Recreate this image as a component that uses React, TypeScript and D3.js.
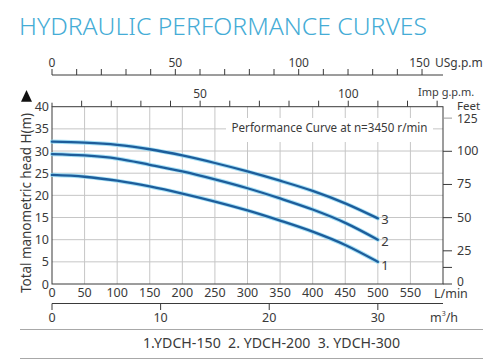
import * as d3 from 'd3'

// flow points in L/min, head in metres
const flowLmin = [0, 50, 100, 150, 200, 250, 300, 350, 400, 450, 500]
const headYdch300 = [32.1, 31.9, 31.4, 30.4, 29.0, 27.3, 25.4, 23.3, 21.0, 18.2, 14.8]
const headYdch200 = [29.3, 29.0, 28.3, 26.9, 25.4, 23.6, 21.6, 19.3, 16.8, 13.8, 10.0]
const headYdch150 = [24.6, 24.2, 23.3, 22.0, 20.4, 18.6, 16.6, 14.3, 11.8, 8.8, 5.0]
const curveNames = ['3', '2', '1']

const lminTicks = [0, 50, 100, 150, 200, 250, 300, 350, 400, 450, 500, 550]
const headTicks = [0, 5, 10, 15, 20, 25, 30, 35, 40]
const feetTicks = [0, 25, 50, 75, 100, 125]
const usgpmLabels = [0, 50, 100, 150]
const impLabels = [50, 100]
const m3hTicks = [0, 10, 20, 30]

const LMIN_PER_USGPM = 3.78541
const LMIN_PER_IMPGPM = 4.54609
const LMIN_PER_M3H = 1000 / 60
const FT_PER_M = 3.34

const font = '"Noto Sans", "DejaVu Sans", sans-serif'
const ink = '#3a3a3a'
const gridColor = '#c6c6c6'

export default function App() {
  const width = 497
  const height = 362
  const plot = { left: 52, right: 443, top: 106.7, bottom: 284 }

  const x = d3.scaleLinear().domain([0, 600]).range([plot.left, plot.right])
  const y = d3.scaleLinear().domain([0, 40]).range([plot.bottom, plot.top])
  const yFt = d3.scaleLinear().domain([0, 125]).range([y(0), y(125 / FT_PER_M)])

  const line = d3
    .line<number>()
    .x((_, i) => x(flowLmin[i]))
    .y(d => y(d))
    .curve(d3.curveCatmullRom.alpha(0.5))

  const series = [headYdch300, headYdch200, headYdch150]
  const labelDy = [6, 6, 8]

  const usTicks = d3.range(0, 151, 10)
  const impTicks = d3.range(10, 131, 10)

  return (
    <svg
      width={width}
      height={height}
      viewBox={`0 0 ${width} ${height}`}
      style={{ position: 'absolute', left: 0, top: 0, background: '#fff' }}
      fontFamily={font}
    >
      <text
        x={19}
        y={35}
        fontSize={24}
        fill="#45acd6"
        textLength={408}
        lengthAdjust="spacingAndGlyphs"
        style={{ fontWeight: 300 }}
      >
        HYDRAULIC PERFORMANCE CURVES
      </text>

      {/* US gallons axis */}
      <line x1={plot.left} x2={plot.right} y1={75} y2={75} stroke={ink} />
      {usTicks.map(t => (
        <line
          key={`us-${t}`}
          x1={x(t * LMIN_PER_USGPM)}
          x2={x(t * LMIN_PER_USGPM)}
          y1={75}
          y2={69}
          stroke={ink}
        />
      ))}
      {usgpmLabels.map(t => (
        <text
          key={`usl-${t}`}
          x={x(t * LMIN_PER_USGPM) - (t === 150 ? 2.5 : 0)}
          y={67}
          textAnchor="middle"
          fontSize={12}
          fill={ink}
        >
          {t}
        </text>
      ))}
      <text x={435} y={67} fontSize={12} fill={ink}>
        USg.p.m
      </text>

      {/* Imperial gallons axis on top of the plot */}
      {impTicks.map(t => (
        <line
          key={`imp-${t}`}
          x1={x(t * LMIN_PER_IMPGPM)}
          x2={x(t * LMIN_PER_IMPGPM)}
          y1={plot.top}
          y2={plot.top - 6}
          stroke={ink}
        />
      ))}
      {impLabels.map(t => (
        <text
          key={`impl-${t}`}
          x={x(t * LMIN_PER_IMPGPM)}
          y={97.5}
          textAnchor="middle"
          fontSize={12}
          fill={ink}
        >
          {t}
        </text>
      ))}
      <text x={418} y={95.5} fontSize={11} fill={ink}>
        Imp g.p.m.
      </text>

      {/* grid */}
      {lminTicks.slice(1).map(t => (
        <line key={`gx-${t}`} x1={x(t)} x2={x(t)} y1={plot.top} y2={plot.bottom} stroke={gridColor} />
      ))}
      {headTicks.slice(1, -1).map(t => (
        <line key={`gy-${t}`} x1={plot.left} x2={plot.right} y1={y(t)} y2={y(t)} stroke={gridColor} />
      ))}

      {/* subtitle with white box */}
      <rect x={226} y={118} width={207} height={24} fill="#fff" />
      <text
        x={231.5}
        y={131.5}
        fontSize={12.5}
        fill={ink}
        textLength={196}
        lengthAdjust="spacingAndGlyphs"
      >
        Performance Curve at n=3450 r/min
      </text>

      {/* frame */}
      <rect
        x={plot.left}
        y={plot.top}
        width={plot.right - plot.left}
        height={plot.bottom - plot.top}
        fill="none"
        stroke={ink}
      />
      <line x1={plot.left} x2={plot.left} y1={plot.top - 4} y2={plot.top} stroke={ink} />

      {/* curves */}
      {series.map((s, i) => (
        <g key={`c-${i}`}>
          <path
            d={line(s) ?? ''}
            fill="none"
            stroke="#8fd8f4"
            strokeWidth={4.2}
            strokeLinecap="round"
            strokeOpacity={0.8}
          />
          <path
            d={line(s) ?? ''}
            fill="none"
            stroke="#1d5d9b"
            strokeWidth={2.3}
            strokeLinecap="round"
          />
          <text
            x={x(flowLmin[flowLmin.length - 1]) + 3.5}
            y={y(s[s.length - 1]) + labelDy[i]}
            fontSize={13}
            fill={ink}
          >
            {curveNames[i]}
          </text>
        </g>
      ))}

      {/* left head axis */}
      {headTicks.map(t => (
        <text
          key={`hl-${t}`}
          x={49}
          y={y(t) + 4.5}
          textAnchor="end"
          fontSize={12.5}
          fill={ink}
        >
          {t}
        </text>
      ))}
      <path d="M21,101.7 L32,101.7 L26.5,90 Z" fill="#111" />
      <text
        transform={`translate(31, ${(113 + 293) / 2}) rotate(-90)`}
        textAnchor="middle"
        fontSize={13.5}
        fill={ink}
        textLength={180}
        lengthAdjust="spacingAndGlyphs"
      >
        Total manometric head H(m)
      </text>

      {/* right feet axis */}
      {feetTicks.map(t => (
        <g key={`ft-${t}`}>
          <line
            x1={plot.right}
            x2={plot.right + 9}
            y1={yFt(t)}
            y2={yFt(t)}
            stroke={t === 125 ? '#9a9a9a' : ink}
          />
          <text
            x={457}
            y={yFt(t) + (t === 0 ? 2 : t === 125 ? 4.5 : 4)}
            fontSize={t === 0 || t === 125 ? 12 : 12.5}
            fill={ink}
          >
            {t}
          </text>
        </g>
      ))}
      <line
        x1={plot.right}
        x2={plot.right + 9}
        y1={yFt(12.5)}
        y2={yFt(12.5)}
        stroke={ink}
      />
      <text x={457} y={109.5} fontSize={11.5} fill={ink}>
        Feet
      </text>

      {/* bottom L/min labels */}
      {lminTicks.map(t => (
        <text
          key={`xl-${t}`}
          x={x(t)}
          y={297}
          textAnchor="middle"
          fontSize={12.5}
          fill={ink}
        >
          {t}
        </text>
      ))}
      <text x={434} y={298} fontSize={12.5} fill={ink}>
        L/min
      </text>

      {/* m3/h axis */}
      <line x1={plot.left} x2={plot.right} y1={303.5} y2={303.5} stroke={ink} />
      {m3hTicks.map(t => (
        <g key={`m3-${t}`}>
          <line
            x1={x(t * LMIN_PER_M3H)}
            x2={x(t * LMIN_PER_M3H)}
            y1={303.5}
            y2={310}
            stroke={ink}
          />
          <text
            x={x(t * LMIN_PER_M3H)}
            y={321.5}
            textAnchor="middle"
            fontSize={12.5}
            fill={ink}
          >
            {t}
          </text>
        </g>
      ))}
      <text x={430} y={321.5} fontSize={12.5} fill={ink}>
        m
        <tspan fontSize={7} dy={-6}>
          3
        </tspan>
        <tspan dy={6}>/h</tspan>
      </text>

      {/* legend between rules */}
      <line x1={20} x2={483} y1={329.5} y2={329.5} stroke="#a8a8a8" />
      <line x1={20} x2={483} y1={358.5} y2={358.5} stroke="#a8a8a8" />
      <text
        x={143}
        y={347.5}
        fontSize={14}
        fill={ink}
        textLength={257}
        lengthAdjust="spacingAndGlyphs"
        style={{ whiteSpace: 'pre' }}
      >
        {'1.YDCH-150  2. YDCH-200  3. YDCH-300'}
      </text>
    </svg>
  )
}
